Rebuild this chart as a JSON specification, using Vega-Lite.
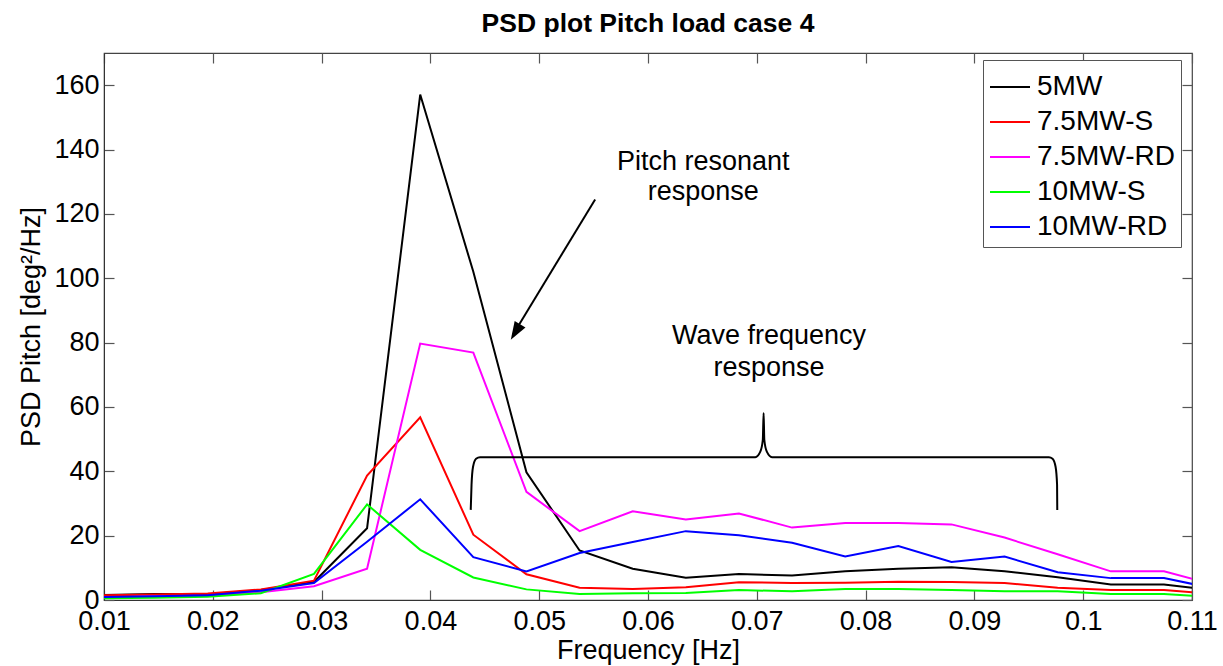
{
  "$schema": "https://vega.github.io/schema/vega-lite/v6.json",
  "width": 1088,
  "height": 547,
  "autosize": "none",
  "padding": {"left": 104, "top": 53, "right": 31, "bottom": 66},
  "background": "white",
  "title": {"text": "PSD plot Pitch load case 4", "fontSize": 26.5, "fontWeight": "bold", "font": "Liberation Sans", "anchor": "middle", "offset": 15, "color": "black"},
  "config": {
    "font": "Liberation Sans",
    "view": {"stroke": "#444", "strokeWidth": 1.2},
    "axis": {"grid": false, "labelFont": "Liberation Sans", "labelFontSize": 27, "labelColor": "black", "titleFont": "Liberation Sans", "titleFontSize": 27, "titleFontWeight": "normal", "titleColor": "black", "tickColor": "#555", "domainColor": "#333", "tickSize": -10, "tickWidth": 1.2}
  },
  "datasets": {
    "psd": [
      {"f": 0.009766, "s": "5MW", "v": 1.5}, {"f": 0.014648, "s": "5MW", "v": 1.9}, {"f": 0.019531, "s": "5MW", "v": 1.8}, {"f": 0.024414, "s": "5MW", "v": 3.1}, {"f": 0.029297, "s": "5MW", "v": 5.6}, {"f": 0.03418, "s": "5MW", "v": 22.3}, {"f": 0.039063, "s": "5MW", "v": 157.1}, {"f": 0.043945, "s": "5MW", "v": 102}, {"f": 0.048828, "s": "5MW", "v": 39.7}, {"f": 0.053711, "s": "5MW", "v": 15.4}, {"f": 0.058594, "s": "5MW", "v": 9.7}, {"f": 0.063477, "s": "5MW", "v": 6.9}, {"f": 0.068359, "s": "5MW", "v": 8.1}, {"f": 0.073242, "s": "5MW", "v": 7.6}, {"f": 0.078125, "s": "5MW", "v": 8.9}, {"f": 0.083008, "s": "5MW", "v": 9.7}, {"f": 0.087891, "s": "5MW", "v": 10.2}, {"f": 0.092773, "s": "5MW", "v": 8.9}, {"f": 0.097656, "s": "5MW", "v": 7.1}, {"f": 0.102539, "s": "5MW", "v": 4.8}, {"f": 0.107422, "s": "5MW", "v": 4.8}, {"f": 0.112305, "s": "5MW", "v": 2.9},
      {"f": 0.009766, "s": "7.5MW-S", "v": 1.5}, {"f": 0.014648, "s": "7.5MW-S", "v": 1.7}, {"f": 0.019531, "s": "7.5MW-S", "v": 2.0}, {"f": 0.024414, "s": "7.5MW-S", "v": 3.3}, {"f": 0.029297, "s": "7.5MW-S", "v": 6.0}, {"f": 0.03418, "s": "7.5MW-S", "v": 38.7}, {"f": 0.039063, "s": "7.5MW-S", "v": 56.8}, {"f": 0.043945, "s": "7.5MW-S", "v": 20.3}, {"f": 0.048828, "s": "7.5MW-S", "v": 8.0}, {"f": 0.053711, "s": "7.5MW-S", "v": 3.8}, {"f": 0.058594, "s": "7.5MW-S", "v": 3.4}, {"f": 0.063477, "s": "7.5MW-S", "v": 4.0}, {"f": 0.068359, "s": "7.5MW-S", "v": 5.5}, {"f": 0.073242, "s": "7.5MW-S", "v": 5.3}, {"f": 0.078125, "s": "7.5MW-S", "v": 5.4}, {"f": 0.083008, "s": "7.5MW-S", "v": 5.7}, {"f": 0.087891, "s": "7.5MW-S", "v": 5.6}, {"f": 0.092773, "s": "7.5MW-S", "v": 5.3}, {"f": 0.097656, "s": "7.5MW-S", "v": 3.8}, {"f": 0.102539, "s": "7.5MW-S", "v": 3.1}, {"f": 0.107422, "s": "7.5MW-S", "v": 3.1}, {"f": 0.112305, "s": "7.5MW-S", "v": 1.8},
      {"f": 0.009766, "s": "7.5MW-RD", "v": 0.8}, {"f": 0.014648, "s": "7.5MW-RD", "v": 1.1}, {"f": 0.019531, "s": "7.5MW-RD", "v": 1.4}, {"f": 0.024414, "s": "7.5MW-RD", "v": 2.4}, {"f": 0.029297, "s": "7.5MW-RD", "v": 4.3}, {"f": 0.03418, "s": "7.5MW-RD", "v": 9.7}, {"f": 0.039063, "s": "7.5MW-RD", "v": 79.7}, {"f": 0.043945, "s": "7.5MW-RD", "v": 76.9}, {"f": 0.048828, "s": "7.5MW-RD", "v": 33.6}, {"f": 0.053711, "s": "7.5MW-RD", "v": 21.4}, {"f": 0.058594, "s": "7.5MW-RD", "v": 27.6}, {"f": 0.063477, "s": "7.5MW-RD", "v": 25.0}, {"f": 0.068359, "s": "7.5MW-RD", "v": 26.9}, {"f": 0.073242, "s": "7.5MW-RD", "v": 22.5}, {"f": 0.078125, "s": "7.5MW-RD", "v": 23.9}, {"f": 0.083008, "s": "7.5MW-RD", "v": 23.9}, {"f": 0.087891, "s": "7.5MW-RD", "v": 23.5}, {"f": 0.092773, "s": "7.5MW-RD", "v": 19.4}, {"f": 0.097656, "s": "7.5MW-RD", "v": 14.2}, {"f": 0.102539, "s": "7.5MW-RD", "v": 8.9}, {"f": 0.107422, "s": "7.5MW-RD", "v": 8.9}, {"f": 0.112305, "s": "7.5MW-RD", "v": 4.6},
      {"f": 0.009766, "s": "10MW-S", "v": 0.5}, {"f": 0.014648, "s": "10MW-S", "v": 0.7}, {"f": 0.019531, "s": "10MW-S", "v": 1.0}, {"f": 0.024414, "s": "10MW-S", "v": 2.1}, {"f": 0.029297, "s": "10MW-S", "v": 8.1}, {"f": 0.03418, "s": "10MW-S", "v": 29.7}, {"f": 0.039063, "s": "10MW-S", "v": 15.6}, {"f": 0.043945, "s": "10MW-S", "v": 7.0}, {"f": 0.048828, "s": "10MW-S", "v": 3.3}, {"f": 0.053711, "s": "10MW-S", "v": 1.9}, {"f": 0.058594, "s": "10MW-S", "v": 2.1}, {"f": 0.063477, "s": "10MW-S", "v": 2.2}, {"f": 0.068359, "s": "10MW-S", "v": 3.1}, {"f": 0.073242, "s": "10MW-S", "v": 2.7}, {"f": 0.078125, "s": "10MW-S", "v": 3.4}, {"f": 0.083008, "s": "10MW-S", "v": 3.4}, {"f": 0.087891, "s": "10MW-S", "v": 3.1}, {"f": 0.092773, "s": "10MW-S", "v": 2.7}, {"f": 0.097656, "s": "10MW-S", "v": 2.7}, {"f": 0.102539, "s": "10MW-S", "v": 1.9}, {"f": 0.107422, "s": "10MW-S", "v": 1.9}, {"f": 0.112305, "s": "10MW-S", "v": 0.8},
      {"f": 0.009766, "s": "10MW-RD", "v": 0.9}, {"f": 0.014648, "s": "10MW-RD", "v": 1.2}, {"f": 0.019531, "s": "10MW-RD", "v": 1.5}, {"f": 0.024414, "s": "10MW-RD", "v": 2.9}, {"f": 0.029297, "s": "10MW-RD", "v": 5.3}, {"f": 0.03418, "s": "10MW-RD", "v": 18.1}, {"f": 0.039063, "s": "10MW-RD", "v": 31.3}, {"f": 0.043945, "s": "10MW-RD", "v": 13.3}, {"f": 0.048828, "s": "10MW-RD", "v": 8.9}, {"f": 0.053711, "s": "10MW-RD", "v": 14.6}, {"f": 0.058594, "s": "10MW-RD", "v": 18.0}, {"f": 0.063477, "s": "10MW-RD", "v": 21.4}, {"f": 0.068359, "s": "10MW-RD", "v": 20.1}, {"f": 0.073242, "s": "10MW-RD", "v": 17.8}, {"f": 0.078125, "s": "10MW-RD", "v": 13.5}, {"f": 0.083008, "s": "10MW-RD", "v": 16.8}, {"f": 0.087891, "s": "10MW-RD", "v": 11.8}, {"f": 0.092773, "s": "10MW-RD", "v": 13.5}, {"f": 0.097656, "s": "10MW-RD", "v": 8.6}, {"f": 0.102539, "s": "10MW-RD", "v": 6.8}, {"f": 0.107422, "s": "10MW-RD", "v": 6.8}, {"f": 0.112305, "s": "10MW-RD", "v": 3.4}
    ],
    "brace": [
      {"i": 1, "x": 0.043707, "y": 28.0}, {"i": 2, "x": 0.043781, "y": 35.8}, {"i": 3, "x": 0.043919, "y": 41.4}, {"i": 4, "x": 0.044195, "y": 43.9}, {"i": 5, "x": 0.044563, "y": 44.4},
      {"i": 6, "x": 0.069863, "y": 44.4}, {"i": 7, "x": 0.070323, "y": 46.1}, {"i": 8, "x": 0.070553, "y": 49.8}, {"i": 9, "x": 0.070626, "y": 58.1}, {"i": 10, "x": 0.07069, "y": 49.8}, {"i": 11, "x": 0.07092, "y": 46.1}, {"i": 12, "x": 0.071398, "y": 44.4},
      {"i": 13, "x": 0.096845, "y": 44.4}, {"i": 14, "x": 0.097185, "y": 43.9}, {"i": 15, "x": 0.097461, "y": 41.4}, {"i": 16, "x": 0.097599, "y": 35.8}, {"i": 17, "x": 0.097617, "y": 28.0}
    ],
    "arrow": [
      {"i": 1, "x": 0.05514, "y": 124.5}, {"i": 2, "x": 0.0476, "y": 82.5}
    ],
    "head": [
      {"x": 0.04739, "y": 80.9}
    ],
    "notes": [
      {"x": 0.06508, "y": 136.0, "t": "Pitch resonant"},
      {"x": 0.06508, "y": 126.9, "t": "response"},
      {"x": 0.07112, "y": 81.9, "t": "Wave frequency"},
      {"x": 0.07112, "y": 72.1, "t": "response"}
    ]
  },
  "resolve": {"axis": {"x": "independent", "y": "independent"}},
  "layer": [
    {
      "data": {"name": "psd"},
      "mark": {"type": "line", "strokeWidth": 2, "clip": true},
      "encoding": {
        "x": {"field": "f", "type": "quantitative", "scale": {"domain": [0.01, 0.11], "nice": false, "zero": false},
          "axis": {"orient": "bottom", "values": [0.01, 0.02, 0.03, 0.04, 0.05, 0.06, 0.07, 0.08, 0.09, 0.1, 0.11], "format": ".2~f", "title": "Frequency [Hz]", "labelPadding": 18, "titlePadding": 3, "labelFlush": false, "domain": true}},
        "y": {"field": "v", "type": "quantitative", "scale": {"domain": [0, 170], "nice": false, "zero": false},
          "axis": {"orient": "left", "values": [0, 20, 40, 60, 80, 100, 120, 140, 160], "title": "PSD Pitch [deg²/Hz]", "labelPadding": 15, "titlePadding": 8, "domain": true}},
        "color": {"field": "s", "type": "nominal",
          "scale": {"domain": ["5MW", "7.5MW-S", "7.5MW-RD", "10MW-S", "10MW-RD"], "range": ["#000000", "#ff0000", "#ff00ff", "#00ff00", "#0000ff"]},
          "legend": {"orient": "none", "legendX": 879, "legendY": 7, "title": null, "symbolType": "stroke", "symbolSize": 1600, "symbolStrokeWidth": 2, "labelFontSize": 28, "labelFont": "Liberation Sans", "labelColor": "black", "strokeColor": "#555", "fillColor": "white", "padding": 6, "rowPadding": -5, "labelOffset": 6, "labelLimit": 300}}
      }
    },
    {
      "data": {"name": "brace"},
      "mark": {"type": "line", "strokeWidth": 2, "color": "black", "interpolate": "monotone"},
      "encoding": {
        "x": {"field": "x", "type": "quantitative", "axis": {"orient": "top", "values": [0.01, 0.02, 0.03, 0.04, 0.05, 0.06, 0.07, 0.08, 0.09, 0.1, 0.11], "labels": false, "title": null, "domain": false}},
        "y": {"field": "y", "type": "quantitative", "axis": {"orient": "right", "values": [0, 20, 40, 60, 80, 100, 120, 140, 160], "labels": false, "title": null, "domain": false}},
        "order": {"field": "i"}
      }
    },
    {
      "data": {"name": "arrow"},
      "mark": {"type": "line", "strokeWidth": 2, "color": "black"},
      "encoding": {
        "x": {"field": "x", "type": "quantitative", "axis": null},
        "y": {"field": "y", "type": "quantitative", "axis": null},
        "order": {"field": "i"}
      }
    },
    {
      "data": {"name": "head"},
      "mark": {"type": "point", "shape": "M0,0L0.7,2L-0.7,2Z", "angle": 211, "filled": true, "color": "black", "size": 324, "opacity": 1, "strokeWidth": 0},
      "encoding": {
        "x": {"field": "x", "type": "quantitative", "axis": null},
        "y": {"field": "y", "type": "quantitative", "axis": null}
      }
    },
    {
      "data": {"name": "notes"},
      "mark": {"type": "text", "fontSize": 27, "font": "Liberation Sans", "align": "center", "baseline": "middle", "color": "black"},
      "encoding": {
        "x": {"field": "x", "type": "quantitative", "axis": null},
        "y": {"field": "y", "type": "quantitative", "axis": null},
        "text": {"field": "t"}
      }
    }
  ]
}
